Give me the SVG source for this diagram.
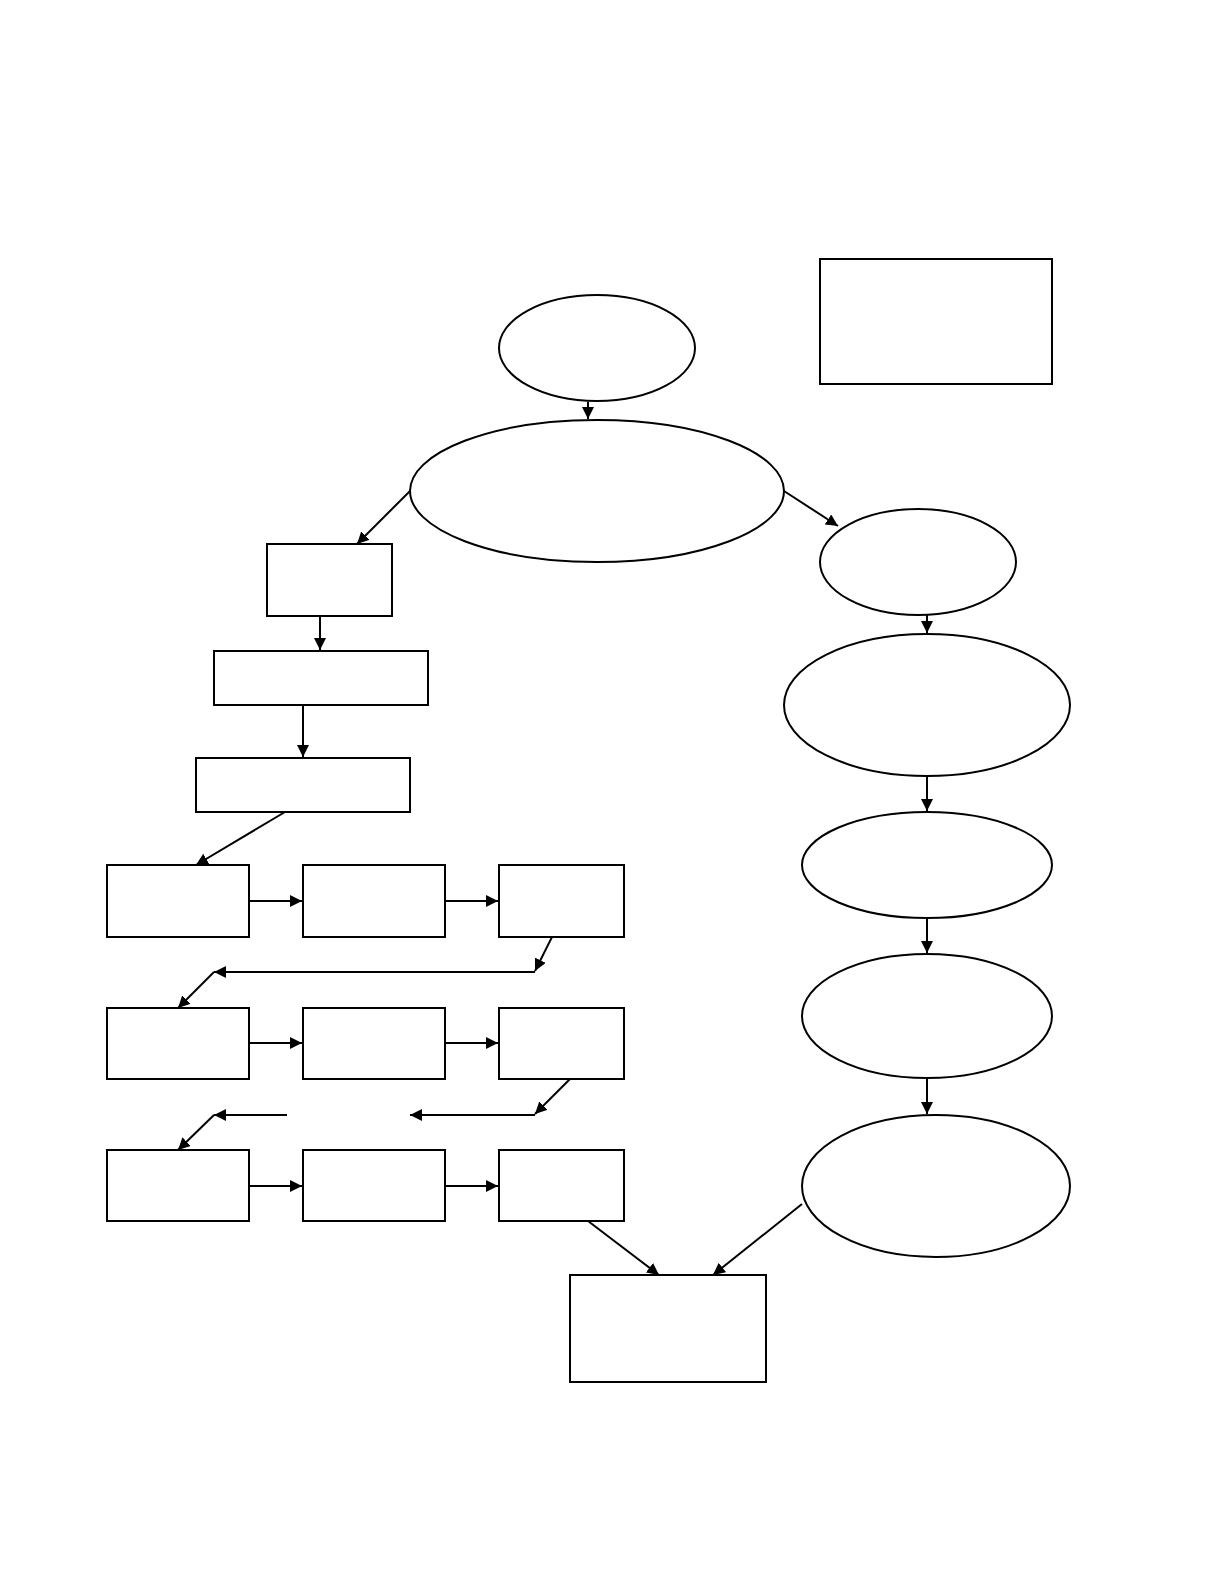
<svg xmlns="http://www.w3.org/2000/svg" width="1224" height="1584" viewBox="0 0 1224 1584">
<style>
.n{fill:#fff;stroke:#000;stroke-width:2}
.c{fill:none;stroke:#000;stroke-width:2}
</style>
<defs><marker id="a" viewBox="0 0 10 10" refX="10" refY="5" markerWidth="6" markerHeight="6" orient="auto" markerUnits="strokeWidth"><path d="M0,0L10,5L0,10z" fill="#000"/></marker></defs>
<rect width="1224" height="1584" fill="#fff"/>
<g id="legend"><rect class="n" x="820" y="259" width="232" height="125"/></g>
<g id="e1"><ellipse class="n" cx="597" cy="348" rx="98" ry="53"/></g>
<g id="e2"><ellipse class="n" cx="597" cy="491" rx="187" ry="71"/></g>
<g id="rA"><rect class="n" x="267" y="544" width="125" height="72"/></g>
<g id="rB"><rect class="n" x="214" y="651" width="214" height="54"/></g>
<g id="rC"><rect class="n" x="196" y="758" width="214" height="54"/></g>
<g id="r11"><rect class="n" x="107" y="865" width="142" height="72"/></g>
<g id="r12"><rect class="n" x="303" y="865" width="142" height="72"/></g>
<g id="r13"><rect class="n" x="499" y="865" width="125" height="72"/></g>
<g id="r21"><rect class="n" x="107" y="1008" width="142" height="71"/></g>
<g id="r22"><rect class="n" x="303" y="1008" width="142" height="71"/></g>
<g id="r23"><rect class="n" x="499" y="1008" width="125" height="71"/></g>
<g id="r31"><rect class="n" x="107" y="1150" width="142" height="71"/></g>
<g id="r32"><rect class="n" x="303" y="1150" width="142" height="71"/></g>
<g id="r33"><rect class="n" x="499" y="1150" width="125" height="71"/></g>
<g id="bottom"><rect class="n" x="570" y="1275" width="196" height="107"/></g>
<g id="e3"><ellipse class="n" cx="918" cy="562" rx="98" ry="53"/></g>
<g id="e4"><ellipse class="n" cx="927" cy="705" rx="143" ry="71"/></g>
<g id="e5"><ellipse class="n" cx="927" cy="865" rx="125" ry="53"/></g>
<g id="e6"><ellipse class="n" cx="927" cy="1016" rx="125" ry="62"/></g>
<g id="e7"><ellipse class="n" cx="936" cy="1186" rx="134" ry="71"/></g>
<g id="connectors">
<line class="c" x1="588" y1="402" x2="588" y2="419" marker-end="url(#a)"/>
<line class="c" x1="410" y1="491" x2="357" y2="544" marker-end="url(#a)"/>
<line class="c" x1="784" y1="491" x2="838" y2="526" marker-end="url(#a)"/>
<line class="c" x1="320" y1="616" x2="320" y2="650" marker-end="url(#a)"/>
<line class="c" x1="303" y1="705" x2="303" y2="757" marker-end="url(#a)"/>
<line class="c" x1="285" y1="812" x2="196" y2="865" marker-end="url(#a)"/>
<line class="c" x1="249" y1="901" x2="302" y2="901" marker-end="url(#a)"/>
<line class="c" x1="445" y1="901" x2="498" y2="901" marker-end="url(#a)"/>
<line class="c" x1="552" y1="937" x2="535" y2="971" marker-end="url(#a)"/>
<line class="c" x1="535" y1="972" x2="214" y2="972" marker-end="url(#a)"/>
<line class="c" x1="214" y1="972" x2="178" y2="1008" marker-end="url(#a)"/>
<line class="c" x1="249" y1="1043" x2="302" y2="1043" marker-end="url(#a)"/>
<line class="c" x1="445" y1="1043" x2="498" y2="1043" marker-end="url(#a)"/>
<line class="c" x1="570" y1="1079" x2="535" y2="1114" marker-end="url(#a)"/>
<line class="c" x1="535" y1="1115" x2="410" y2="1115" marker-end="url(#a)"/>
<line class="c" x1="287" y1="1115" x2="214" y2="1115" marker-end="url(#a)"/>
<line class="c" x1="214" y1="1115" x2="178" y2="1150" marker-end="url(#a)"/>
<line class="c" x1="249" y1="1186" x2="302" y2="1186" marker-end="url(#a)"/>
<line class="c" x1="445" y1="1186" x2="498" y2="1186" marker-end="url(#a)"/>
<line class="c" x1="588" y1="1221" x2="659" y2="1275" marker-end="url(#a)"/>
<line class="c" x1="802" y1="1204" x2="713" y2="1275" marker-end="url(#a)"/>
<line class="c" x1="927" y1="615" x2="927" y2="633" marker-end="url(#a)"/>
<line class="c" x1="927" y1="776" x2="927" y2="811" marker-end="url(#a)"/>
<line class="c" x1="927" y1="918" x2="927" y2="953" marker-end="url(#a)"/>
<line class="c" x1="927" y1="1078" x2="927" y2="1114" marker-end="url(#a)"/>
</g>
</svg>
